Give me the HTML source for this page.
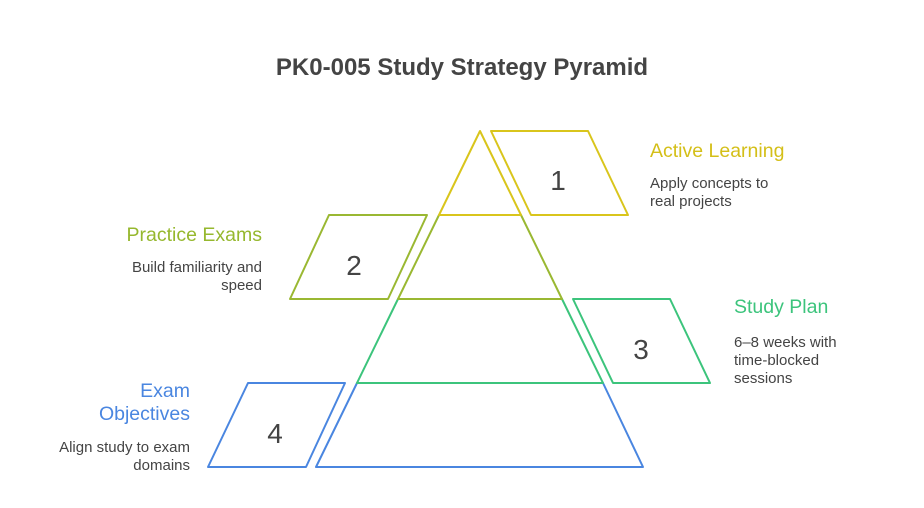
<!DOCTYPE html>
<html><head><meta charset="utf-8"><style>
html,body{margin:0;padding:0;background:#fff;}
svg{display:block;font-family:"Liberation Sans",sans-serif;}
</style></head><body>
<svg width="924" height="508" viewBox="0 0 924 508" xmlns="http://www.w3.org/2000/svg">
<rect width="924" height="508" fill="#fff"/>
<text x="462" y="75" text-anchor="middle" font-size="24" font-weight="bold" fill="#444">PK0-005 Study Strategy Pyramid</text>
<g fill="none" stroke-width="2" stroke-linejoin="round">
<polygon points="316,467 643,467 603,383 357,383" stroke="#4a86e0"/>
<polygon points="357,383 603,383 562,299 398,299" stroke="#3cc47c"/>
<polygon points="398,299 562,299 521,215 439,215" stroke="#9ab832"/>
<polygon points="439,215 521,215 480,131" stroke="#d9c51c"/>
<polygon points="491,131 588,131 628,215 531,215" stroke="#d9c51c"/>
<polygon points="329,215 427,215 388,299 290,299" stroke="#9ab832"/>
<polygon points="573,299 670,299 710,383 613,383" stroke="#3cc47c"/>
<polygon points="248,383 345,383 306,467 208,467" stroke="#4a86e0"/>
</g>
<g font-size="28" fill="#444" text-anchor="middle">
<text x="558" y="190">1</text>
<text x="354" y="275">2</text>
<text x="641" y="359">3</text>
<text x="275" y="443">4</text>
</g>
<g font-size="19.5">
<text x="650" y="157" fill="#d4bf18">Active Learning</text>
<text x="262" y="241" fill="#96b82e" text-anchor="end">Practice Exams</text>
<text x="734" y="313" fill="#3cc47c">Study Plan</text>
<text x="190" y="397" fill="#4a86e0" text-anchor="end">Exam</text>
<text x="190" y="420" fill="#4a86e0" text-anchor="end">Objectives</text>
</g>
<g font-size="15" fill="#444">
<text x="650" y="188">Apply concepts to</text>
<text x="650" y="206">real projects</text>
<text x="262" y="272" text-anchor="end">Build familiarity and</text>
<text x="262" y="290" text-anchor="end">speed</text>
<text x="734" y="347">6–8 weeks with</text>
<text x="734" y="365">time-blocked</text>
<text x="734" y="383">sessions</text>
<text x="190" y="452" text-anchor="end">Align study to exam</text>
<text x="190" y="470" text-anchor="end">domains</text>
</g>
</svg>
</body></html>
